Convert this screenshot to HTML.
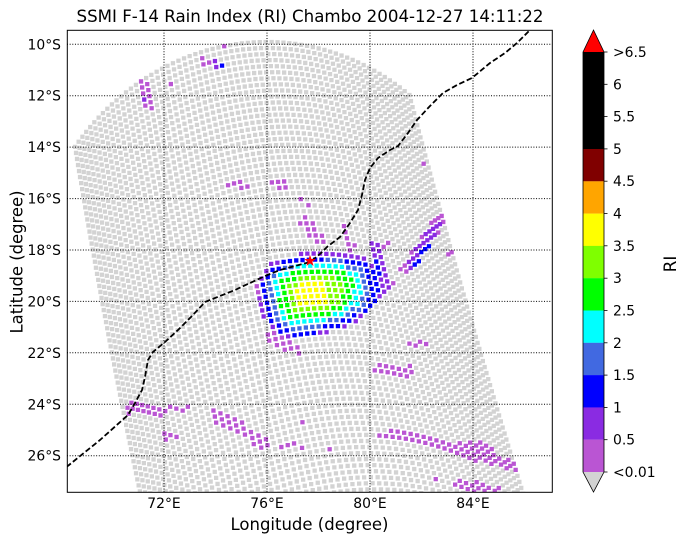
<!DOCTYPE html>
<html><head><meta charset="utf-8">
<style>
html,body{margin:0;padding:0;background:#fff;}
svg{display:block;}
text{font-family:"DejaVu Sans","Liberation Sans",sans-serif;fill:#000;}
</style></head><body>
<svg id="s" width="687" height="545" viewBox="0 0 687 545" xmlns="http://www.w3.org/2000/svg">
<defs><clipPath id="cp"><rect x="67.3" y="30.3" width="485" height="462"/></clipPath></defs>
<rect width="687" height="545" fill="#fff"/>
<g id="dots" clip-path="url(#cp)"></g>
<g stroke="#000" stroke-width="1" stroke-dasharray="1,1.65" fill="none" clip-path="url(#cp)">
<line x1="67" y1="44.3" x2="552" y2="44.3"/>
<line x1="67" y1="95.7" x2="552" y2="95.7"/>
<line x1="67" y1="147.1" x2="552" y2="147.1"/>
<line x1="67" y1="198.6" x2="552" y2="198.6"/>
<line x1="67" y1="250" x2="552" y2="250"/>
<line x1="67" y1="301.4" x2="552" y2="301.4"/>
<line x1="67" y1="352.8" x2="552" y2="352.8"/>
<line x1="67" y1="404.3" x2="552" y2="404.3"/>
<line x1="67" y1="455.7" x2="552" y2="455.7"/>
<line x1="164" y1="30" x2="164" y2="492"/>
<line x1="267" y1="30" x2="267" y2="492"/>
<line x1="370" y1="30" x2="370" y2="492"/>
<line x1="473" y1="30" x2="473" y2="492"/>
</g>
<path clip-path="url(#cp)" fill="none" stroke="#000" stroke-width="1.8" stroke-dasharray="5.6,2.6" d="M60,472 L69,465 L100,440 L128,415 L135,403 L142,390 L145,377 L148,360 L153,352 L165,342 L178,330 L192,316 L205,302 L220,296 L235,290 L250,283 L265,276 L280,270 L295,266 L310,262 L320,254 L327,247 L340,237 L350,223 L358,210 L362,195 L365,180 L370,168 L378,158 L390,150 L398,146 L408,133 L417,120 L430,106 L443,93 L457,85 L472,78 L490,63 L505,53 L517,43 L530,30 L537,24"/>
<polygon fill="#ff0000" points="310,255 311.41,259.06 315.71,259.15 312.28,261.74 313.53,265.85 310,263.4 306.47,265.85 307.72,261.74 304.29,259.15 308.59,259.06"/>
<rect x="67.3" y="30.3" width="485" height="462" fill="none" stroke="#000" stroke-width="1"/>

<g font-size="13.9" text-anchor="end">
<text x="61" y="49.3">10°S</text>
<text x="61" y="100.7">12°S</text>
<text x="61" y="152.1">14°S</text>
<text x="61" y="203.6">16°S</text>
<text x="61" y="255">18°S</text>
<text x="61" y="306.4">20°S</text>
<text x="61" y="357.8">22°S</text>
<text x="61" y="409.3">24°S</text>
<text x="61" y="460.7">26°S</text>
</g>
<g font-size="13.9" text-anchor="middle">
<text x="164" y="508">72°E</text>
<text x="267" y="508">76°E</text>
<text x="370" y="508">80°E</text>
<text x="473" y="508">84°E</text>
</g>
<text x="310" y="22" font-size="16.7" text-anchor="middle" textLength="467" lengthAdjust="spacingAndGlyphs">SSMI F-14 Rain Index (RI) Chambo 2004-12-27 14:11:22</text>
<text x="309.5" y="530" font-size="16.7" text-anchor="middle" textLength="158" lengthAdjust="spacingAndGlyphs">Longitude (degree)</text>
<text transform="translate(22.5,262) rotate(-90)" x="0" y="0" font-size="16.7" text-anchor="middle" textLength="143" lengthAdjust="spacingAndGlyphs">Latitude (degree)</text>
<text transform="translate(676,264) rotate(-90)" x="0" y="0" font-size="16.7" text-anchor="middle">RI</text>

<g>
<polygon points="583,52 593.5,30 604,52" fill="#ff0000"/>
<polygon points="583,472 593.5,492 604,472" fill="#d3d3d3"/>
<rect x="583" y="52" width="21" height="97" fill="#000"/>
<rect x="583" y="149" width="21" height="32.4" fill="#800000"/>
<rect x="583" y="181.3" width="21" height="32.4" fill="#ffa500"/>
<rect x="583" y="213.6" width="21" height="32.4" fill="#ffff00"/>
<rect x="583" y="245.9" width="21" height="32.4" fill="#7fff00"/>
<rect x="583" y="278.2" width="21" height="32.4" fill="#00ff00"/>
<rect x="583" y="310.5" width="21" height="32.4" fill="#00ffff"/>
<rect x="583" y="342.8" width="21" height="32.4" fill="#4169e1"/>
<rect x="583" y="375.1" width="21" height="32.4" fill="#0000ff"/>
<rect x="583" y="407.4" width="21" height="32.4" fill="#8a2be2"/>
<rect x="583" y="439.7" width="21" height="32.3" fill="#ba55d3"/>
<polygon points="583,52 593.5,30 604,52 604,472 593.5,492 583,472" fill="none" stroke="#000" stroke-width="0.8"/>
<g stroke="#000" stroke-width="0.8">
<line x1="604" y1="52" x2="607.5" y2="52"/>
<line x1="604" y1="84.3" x2="607.5" y2="84.3"/>
<line x1="604" y1="116.6" x2="607.5" y2="116.6"/>
<line x1="604" y1="148.9" x2="607.5" y2="148.9"/>
<line x1="604" y1="181.2" x2="607.5" y2="181.2"/>
<line x1="604" y1="213.5" x2="607.5" y2="213.5"/>
<line x1="604" y1="245.8" x2="607.5" y2="245.8"/>
<line x1="604" y1="278.2" x2="607.5" y2="278.2"/>
<line x1="604" y1="310.5" x2="607.5" y2="310.5"/>
<line x1="604" y1="342.8" x2="607.5" y2="342.8"/>
<line x1="604" y1="375.1" x2="607.5" y2="375.1"/>
<line x1="604" y1="407.4" x2="607.5" y2="407.4"/>
<line x1="604" y1="439.7" x2="607.5" y2="439.7"/>
<line x1="604" y1="472" x2="607.5" y2="472"/>
</g>
<g font-size="13.9">
<text x="613" y="57">&gt;6.5</text>
<text x="613" y="89.3">6</text>
<text x="613" y="121.6">5.5</text>
<text x="613" y="153.9">5</text>
<text x="613" y="186.2">4.5</text>
<text x="613" y="218.5">4</text>
<text x="613" y="250.8">3.5</text>
<text x="613" y="283.2">3</text>
<text x="613" y="315.5">2.5</text>
<text x="613" y="347.8">2</text>
<text x="613" y="380.1">1.5</text>
<text x="613" y="412.4">1</text>
<text x="613" y="444.7">0.5</text>
<text x="613" y="477">&lt;0.01</text>
</g>
</g>
</svg>
<script>
(function(){
var g=document.getElementById('dots');
var SN='http://www.w3.org/2000/svg';
var O='#ba55d3',V='#8a2be2',B='#0000ff',RB='#4169e1',CY='#00ffff',LM='#00ff00',CH='#7fff00',YE='#ffff00';
var blobs=[
['E',206,62,9,5,O],['E',219,66,8,6,V],['E',223,67,4,3,B],['E',225,47,5,3,O],
['C',142,81,150,107,5,O],['E',146,98,3,3,V],['E',169,88,3,5,O],
['C',227,185,247,186,4,O],['C',271,184,285,184,4,O],['E',300,198,3,3,O],['E',307,204,3,3,O],
['E',424,163,3,3,O],['E',439,219,3,3,V],
['C',441,218,405,270,6,O],['C',438,223,409,266,4,V],['C',432,240,414,264,2.6,B],['E',419,258,2.5,2.5,RB],['E',450,253,3,3,O],
['C',305,222,321,242,6,O],['C',344,228,352,249,4.5,O],['C',318,254,358,262,5,V],
['C',373,246,384,290,6,V],['C',376,264,378,283,3,B],['E',386,244,5,3.5,O],['E',393,281,3,3,O],
['E',260,288,4,6,O],['C',270,336,298,350,6,O],
['C',410,346,426,343,3,O],['C',379,368,410,372,6,O],['E',305,424,5,3,O],['E',303,448,2.5,2.5,O],['E',330,449,2.5,2.5,O],
['C',378,435,386,435,3,O],['C',397,434,468,452,7,O],['E',478,452,18,11,O],['C',470,452,514,466,5,O],
['E',437,481,3,3,O],['C',460,484,497,491,5,O],
['C',129,408,160,410,6,O],['C',163,408,187,409,3,O],['C',163,436,176,439,3,O],
['C',217,415,266,444,7,O],['E',288,445,12,5,O]
];
function inBlob(b,x,y){
 if(b[0]=='E'){var dx=(x-b[1])/b[3],dy=(y-b[2])/b[4];return dx*dx+dy*dy<=1;}
 var x1=b[1],y1=b[2],x2=b[3],y2=b[4],w=b[5];
 var vx=x2-x1,vy=y2-y1,L=vx*vx+vy*vy;
 var t=L>0?((x-x1)*vx+(y-y1)*vy)/L:0; t=Math.max(0,Math.min(1,t));
 var px=x1+t*vx-x,py=y1+t*vy-y; return px*px+py*py<=w*w;
}
function sd(x,y,shift){
 var X=x-319,Y=y-293;
 var u=X*0.985-Y*0.174, v=X*0.174+Y*0.985;
 u+=shift;
 var b=38-0.12*u; if(b<20)b=20;
 var a=u<0?56:61;
 var p=2.6;
 return Math.pow(Math.pow(Math.abs(u/a),p)+Math.pow(Math.abs(v/b),p),1/p);
}
function color(x,y){
 var d=sd(x,y,0);
 if(d<1){
  var dc=sd(x,y,12*(1-d));
  if(dc<0.33)return YE;
  if(dc<0.50)return CH;
  if(dc<0.66)return LM;
  if(dc<0.77)return CY;
  if(dc<0.88)return RB;
  return B;
 }
 var c=null;
 for(var i=0;i<blobs.length;i++){ if(inBlob(blobs[i],x,y)) c=blobs[i][blobs[i].length-1]; }
 if(c) return c;
 if(d<1.07) return V;
 return null;
}
var s=4.3,h=s/2;
var dx=0.228,dy=1,n=Math.hypot(dx,dy);dx/=n;dy/=n;
var a0=-58.1*Math.PI/180,a1=40.4*Math.PI/180;
var gray='',cols={};
for(var i=0;i<78;i++){
 var cx=265.9+i*6.2*dx, cy=264.4+i*6.2*dy;
 for(var j=0;j<64;j++){
  var bt=a0+(a1-a0)*j/63;
  var x=cx+222.4*Math.sin(bt), y=cy-222.4*Math.cos(bt);
  var k=1+0.00029*(y-115);
  x=300+(x-300)*k;
  if(x<60||x>560||y<24||y>498)continue;
  var seg='M'+(x-h).toFixed(1)+' '+(y-h).toFixed(1)+'h'+s+'v'+s+'h-'+s+'z';
  var c=color(x,y);
  if(c){cols[c]=(cols[c]||'')+seg;} else gray+=seg;
 }
}
function addPath(d,f){var p=document.createElementNS(SN,'path');p.setAttribute('d',d);p.setAttribute('fill',f);g.appendChild(p);}
addPath(gray,'#d3d3d3');
for(var c in cols) addPath(cols[c],c);
})();
</script>
</body></html>
